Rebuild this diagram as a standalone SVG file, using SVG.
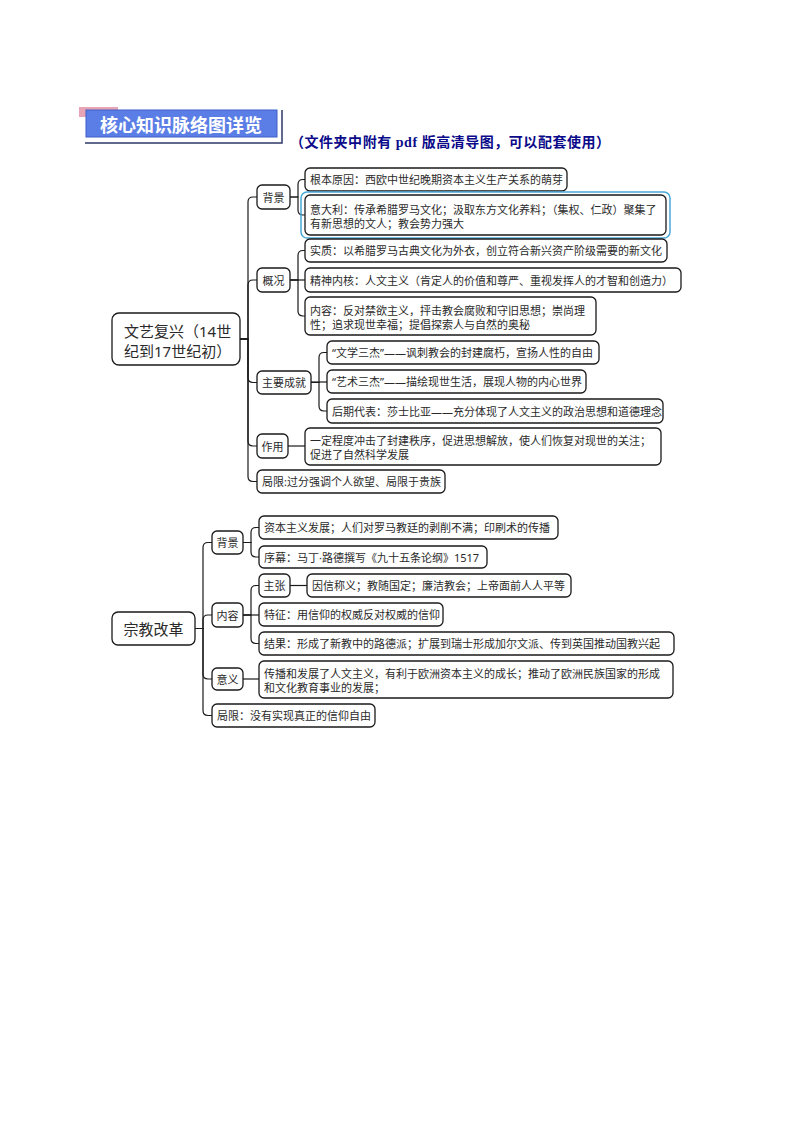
<svg xmlns="http://www.w3.org/2000/svg" width="794" height="1123" viewBox="0 0 794 1123">
<style>
.bx{fill:#fff;stroke:#1a1a1a;stroke-width:1.3}
.t{font-family:"Noto Sans","Noto Sans CJK SC",sans-serif;font-size:11px;fill:#2a2a2a;dominant-baseline:central}
.c{text-anchor:middle}
.big{font-size:15px}
.cn{fill:none;stroke:#1a1a1a;stroke-width:1.2}
</style>
<rect width="794" height="1123" fill="#fff"/>
<g id="header">
<rect x="79" y="107" width="39" height="10" fill="#e6a4b4"/>
<rect x="86" y="110" width="191" height="27" fill="#5b7ee6" stroke="#3f5fc6" stroke-width="1"/>
<path d="M85,143 H282 V110" fill="none" stroke="#2e3a68" stroke-width="1.5"/>
<text x="181" y="124" class="t c" style="font-size:18px;font-weight:bold;fill:#fff;font-family:'Noto Sans CJK SC',sans-serif">核心知识脉络图详览</text>
<text x="290" y="142" textLength="320" lengthAdjust="spacing" style="font-family:'Liberation Serif','Noto Sans CJK SC',serif;font-size:14px;font-weight:bold;fill:#0a0a8a;dominant-baseline:central">（文件夹中附有 pdf 版高清导图，可以配套使用）</text>
</g>
<g id="connectors">
<path class="cn" d="M240,339 H248 V202 Q248,197 253,197 H257"/>
<path class="cn" d="M240,339 H248 V285 Q248,280 253,280 H257"/>
<path class="cn" d="M240,339 H248 V377.5 Q248,382.5 253,382.5 H257"/>
<path class="cn" d="M240,339 H248 V441 Q248,446 253,446 H257"/>
<path class="cn" d="M240,339 H248 V476.5 Q248,481.5 253,481.5 H257"/>
<path class="cn" d="M290,197 H298 V184.5 Q298,179.5 303,179.5 H305"/>
<path class="cn" d="M290,197 H298 V210 Q298,215 303,215 H305"/>
<path class="cn" d="M290,280 H298 V255.5 Q298,250.5 303,250.5 H305"/>
<path class="cn" d="M290,280 H305"/>
<path class="cn" d="M290,280 H298 V311 Q298,316 303,316 H305"/>
<path class="cn" d="M311,382.5 H319 V357.5 Q319,352.5 324,352.5 H327"/>
<path class="cn" d="M311,382 H327"/>
<path class="cn" d="M311,382.5 H319 V406 Q319,411 324,411 H327"/>
<path class="cn" d="M288,446 H305"/>
<path class="cn" d="M195,628.5 H203 V547.5 Q203,542.5 208,542.5 H212"/>
<path class="cn" d="M195,628.5 H203 V620 Q203,615 208,615 H212"/>
<path class="cn" d="M195,628.5 H203 V674 Q203,679 208,679 H212"/>
<path class="cn" d="M195,628.5 H203 V710.5 Q203,715.5 208,715.5 H212"/>
<path class="cn" d="M243,542.5 H251 V532.5 Q251,527.5 256,527.5 H259"/>
<path class="cn" d="M243,542.5 H251 V552 Q251,557 256,557 H259"/>
<path class="cn" d="M243,615 H251 V590.5 Q251,585.5 256,585.5 H259"/>
<path class="cn" d="M243,615 H259"/>
<path class="cn" d="M243,615 H251 V638.5 Q251,643.5 256,643.5 H259"/>
<path class="cn" d="M290,585.5 H307"/>
<path class="cn" d="M243,679 H259"/>
</g>
<g id="n-wenyi">
<rect class="bx" x="112" y="313" width="128" height="52" rx="7"/>
<text class="t big" x="124" y="331">文艺复兴（14世</text>
<text class="t big" x="124" y="351">纪到17世纪初）</text>
</g>
<g id="n-bj1"><rect class="bx" x="257" y="185" width="33" height="24" rx="5"/><text class="t c" x="273.5" y="197">背景</text></g>
<g id="n-gk"><rect class="bx" x="257" y="268" width="33" height="24" rx="5"/><text class="t c" x="273.5" y="280">概况</text></g>
<g id="n-cj"><rect class="bx" x="257" y="371" width="54" height="23" rx="5"/><text class="t c" x="284" y="382.5">主要成就</text></g>
<g id="n-zy"><rect class="bx" x="257" y="434" width="31" height="24" rx="5"/><text class="t c" x="272.5" y="446">作用</text></g>
<g id="n-jx1"><rect class="bx" x="257" y="470" width="188" height="23" rx="5"/><text class="t" x="262" y="481.5">局限:过分强调个人欲望、局限于贵族</text></g>
<g id="n-gbyy"><rect class="bx" x="305" y="168" width="262" height="23" rx="5"/><text class="t" x="310" y="179.5">根本原因：西欧中世纪晚期资本主义生产关系的萌芽</text></g>
<g id="n-ydl">
<rect x="301" y="192" width="369" height="46" rx="6" fill="none" stroke="#4aa8d8" stroke-width="1.5"/>
<rect class="bx" x="305" y="195" width="361" height="40" rx="5"/>
<text class="t" x="310" y="209">意大利：传承希腊罗马文化；汲取东方文化养料；（集权、仁政）聚集了</text>
<text class="t" x="310" y="223">有新思想的文人；教会势力强大</text>
</g>
<g id="n-sz"><rect class="bx" x="305" y="239" width="362" height="23" rx="5"/><text class="t" x="310" y="250.5">实质：以希腊罗马古典文化为外衣，创立符合新兴资产阶级需要的新文化</text></g>
<g id="n-jsnh"><rect class="bx" x="305" y="268" width="376" height="24" rx="5"/><text class="t" x="310" y="280">精神内核：人文主义（肯定人的价值和尊严、重视发挥人的才智和创造力）</text></g>
<g id="n-nr1">
<rect class="bx" x="305" y="297" width="291" height="38" rx="5"/>
<text class="t" x="310" y="310">内容：反对禁欲主义，抨击教会腐败和守旧思想；崇尚理</text>
<text class="t" x="310" y="324">性；追求现世幸福；提倡探索人与自然的奥秘</text>
</g>
<g id="n-wxsj"><rect class="bx" x="327" y="341" width="272" height="23" rx="5"/><text class="t" x="332" y="352.5">“文学三杰”——讽刺教会的封建腐朽，宣扬人性的自由</text></g>
<g id="n-yssj"><rect class="bx" x="327" y="370" width="259" height="23" rx="5"/><text class="t" x="332" y="381.5">“艺术三杰”——描绘现世生活，展现人物的内心世界</text></g>
<g id="n-hqdb"><rect class="bx" x="327" y="399" width="336" height="24" rx="5"/><text class="t" x="332" y="411">后期代表：莎士比亚——充分体现了人文主义的政治思想和道德理念</text></g>
<g id="n-ydcd">
<rect class="bx" x="305" y="428" width="356" height="37" rx="5"/>
<text class="t" x="310" y="440">一定程度冲击了封建秩序，促进思想解放，使人们恢复对现世的关注；</text>
<text class="t" x="310" y="454">促进了自然科学发展</text>
</g>
<g id="n-zjgg">
<rect class="bx" x="112" y="612" width="83" height="33" rx="6"/>
<text class="t big c" x="153.5" y="628.5">宗教改革</text>
</g>
<g id="n-bj2"><rect class="bx" x="212" y="531" width="31" height="23" rx="5"/><text class="t c" x="227.5" y="542.5">背景</text></g>
<g id="n-nr2"><rect class="bx" x="212" y="603" width="31" height="24" rx="5"/><text class="t c" x="227.5" y="615">内容</text></g>
<g id="n-yy"><rect class="bx" x="212" y="668" width="31" height="22" rx="5"/><text class="t c" x="227.5" y="679">意义</text></g>
<g id="n-jx2"><rect class="bx" x="212" y="704" width="163" height="23" rx="5"/><text class="t" x="217" y="715.5">局限：没有实现真正的信仰自由</text></g>
<g id="n-zbzy"><rect class="bx" x="259" y="516" width="299" height="23" rx="5"/><text class="t" x="264" y="527.5">资本主义发展；人们对罗马教廷的剥削不满；印刷术的传播</text></g>
<g id="n-xm"><rect class="bx" x="259" y="546" width="228" height="22" rx="5"/><text class="t" x="264" y="557">序幕：马丁·路德撰写《九十五条论纲》1517</text></g>
<g id="n-zz"><rect class="bx" x="259" y="574" width="31" height="23" rx="5"/><text class="t c" x="274.5" y="585.5">主张</text></g>
<g id="n-yxcy"><rect class="bx" x="307" y="574" width="264" height="23" rx="5"/><text class="t" x="312" y="585.5">因信称义；教随国定；廉洁教会；上帝面前人人平等</text></g>
<g id="n-tz"><rect class="bx" x="259" y="603" width="184" height="23" rx="5"/><text class="t" x="264" y="614.5">特征：用信仰的权威反对权威的信仰</text></g>
<g id="n-jg"><rect class="bx" x="259" y="632" width="415" height="23" rx="5"/><text class="t" x="264" y="643.5">结果：形成了新教中的路德派；扩展到瑞士形成加尔文派、传到英国推动国教兴起</text></g>
<g id="n-yyc">
<rect class="bx" x="259" y="661" width="414" height="37" rx="5"/>
<text class="t" x="264" y="673">传播和发展了人文主义，有利于欧洲资本主义的成长；推动了欧洲民族国家的形成</text>
<text class="t" x="264" y="687">和文化教育事业的发展；</text>
</g>
</svg>
